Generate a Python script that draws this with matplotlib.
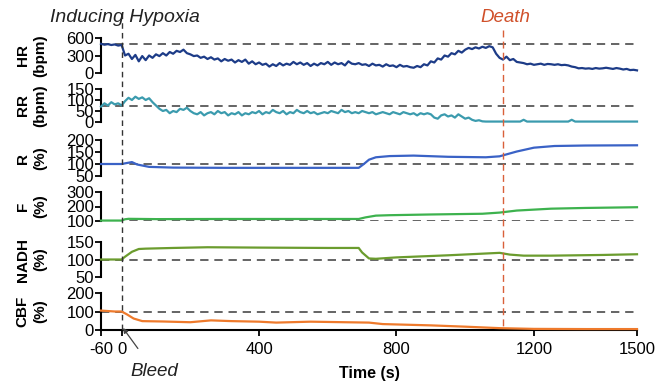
import numpy as np
import matplotlib
matplotlib.use('Agg')
import matplotlib.pyplot as plt

plt.rcParams['font.family'] = ['Liberation Sans', 'DejaVu Sans']
plt.rcParams['axes.unicode_minus'] = False

# heart rate and respiration, sampled every 10 s from -60 s to 1500 s
t_fast = np.arange(-60, 1501, 10)

hr = [500, 485, 495, 480, 490, 470,
      480, 300, 330, 240, 310, 200, 290, 220, 300, 260,
      320, 290, 340, 300, 360, 330, 380, 360, 400, 340,
      320, 290, 300, 260, 280, 240, 270, 230, 250, 200,
      240, 210, 230, 180, 220, 190, 230, 160, 200, 150,
      180, 140, 160, 110, 150, 120, 170, 130, 160, 140,
      190, 150, 180, 140, 170, 120, 160, 130, 170, 150,
      190, 140, 180, 150, 170, 130, 200, 160, 150, 170,
      140, 150, 120, 160, 130, 140, 110, 150, 120, 130,
      100, 140, 110, 120, 100, 90, 120, 100, 150, 130,
      200, 180, 250, 230, 300, 280, 340, 320, 380, 350,
      400, 430, 410, 440, 420, 450, 430, 460, 440, 330,
      260, 230, 280, 220, 240, 190, 180, 170, 150, 160,
      140, 150, 160, 140, 155, 150, 140, 150, 135, 140,
      130, 110, 100, 80, 85, 75, 80, 70, 85, 75,
      80, 90, 80, 70, 85, 75, 60, 70, 50, 55, 45]

rr = [70, 85, 75, 90, 80, 85,
      75, 95, 110, 100, 115, 105, 112, 100, 108, 90,
      75, 60, 50, 55, 40, 50, 45, 60, 55, 65,
      50, 40, 35, 45, 30, 40, 45, 35, 50, 40,
      45, 30, 40, 35, 45, 30, 40, 35, 45, 40,
      50, 35, 45, 40, 55, 45, 40, 50, 35, 45,
      40, 55, 45, 40, 50, 40, 45, 35, 40, 45,
      40, 50, 45, 40, 55, 45, 50, 40, 45, 40,
      50, 45, 40, 45, 35, 40, 45, 40, 35, 45,
      40, 35, 45, 40, 35, 40, 30, 40, 35, 40,
      35, 20, 15, 30, 35, 25, 30, 20, 35, 25,
      15, 20, 10, 5, 8, 3, 2, 2, 2, 2,
      2, 2, 2, 2, 2, 2, 2, 10, 2, 2,
      2, 2, 2, 2, 2, 2, 2, 2, 2, 2,
      2, 10, 2, 2, 2, 2, 2, 2, 2, 2,
      2, 2, 2, 2, 2, 2, 2, 2, 2, 2, 2]

# slower signals, read at breakpoints
t_r = [-60, 0, 15, 30, 45, 80, 150, 300, 500, 690, 705, 720, 740, 780, 850,
       950, 1060, 1100, 1150, 1200, 1260, 1350, 1500]
r_val = [100, 100, 104, 108, 98, 88, 85, 84, 84, 84, 100, 118, 128, 133, 135,
         130, 128, 132, 152, 168, 175, 177, 178]

t_f = [-60, 0, 10, 20, 100, 300, 500, 690, 710, 740, 780, 900, 1050, 1100,
       1150, 1250, 1350, 1500]
f_val = [103, 103, 112, 115, 113, 114, 114, 114, 125, 137, 140, 145, 150, 158,
         172, 185, 190, 195]

t_nadh = [-60, 0, 10, 30, 50, 70, 150, 250, 400, 600, 690, 700, 720, 740, 800,
          950, 1100, 1130, 1170, 1250, 1400, 1500]
nadh = [100, 100, 108, 122, 130, 131, 133, 135, 134, 133, 133, 120, 103, 102, 106,
        112, 119, 114, 111, 111, 113, 115]

t_cbf = [-60, -20, 0, 15, 35, 60, 120, 200, 260, 320, 400, 450, 550, 650, 720,
         760, 800, 900, 1000, 1100, 1200, 1350, 1500]
cbf = [105, 100, 100, 85, 62, 48, 46, 42, 52, 48, 45, 40, 45, 42, 40,
       32, 30, 25, 18, 10, 6, 5, 5]

names = ['HR\n(bpm)', 'RR\n(bpm)', 'R\n(%)', 'F\n(%)', 'NADH\n(%)', 'CBF\n(%)']
baselines = [500, 75, 100, 100, 100, 100]
ylims = [(0, 600), (0, 150), (50, 200), (100, 300), (50, 150), (0, 200)]
yticks = [[0, 300, 600], [0, 50, 100, 150], [50, 100, 150, 200],
          [100, 200, 300], [50, 100, 150], [0, 100, 200]]
colors = ['#1d3c88', '#3b9bae', '#3a62c6', '#3db24e', '#6b9c2e', '#ee7a2c']
series = [(t_fast, hr), (t_fast, rr), (t_r, r_val), (t_f, f_val),
          (t_nadh, nadh), (t_cbf, cbf)]

xticks = [-60, 0, 400, 800, 1200, 1500]
bleed_time, death_time = 0, 1110

# panel extents in pixels from the top (top, bottom)
W, H = 655, 383
rows = [(38, 73), (89, 122), (140, 176), (192, 221), (242, 277), (293, 330)]
x0, x1 = 101, 637

fig = plt.figure(figsize=(W/100, H/100), dpi=100)

axes = []
for i, (top, bot) in enumerate(rows):
    ax = fig.add_axes([x0/W, 1 - bot/H, (x1 - x0)/W, (bot - top)/H])
    t, v = series[i]
    ax.plot(t, v, color=colors[i], lw=1.6, clip_on=False, zorder=3)
    ax.axhline(baselines[i], color='#4a4a4a', lw=1.2, ls=(0, (5, 3.5)), zorder=2)
    ax.set_xlim(-60, 1500)
    ax.set_ylim(*ylims[i])
    ax.set_yticks(yticks[i])
    for s in ['top', 'right']:
        ax.spines[s].set_visible(False)
    ax.spines['left'].set_linewidth(1.5)
    ax.tick_params(axis='y', direction='out', length=4, width=1.3, pad=1,
                   labelsize=12)
    ax.set_ylabel(names[i], fontsize=11, fontweight='bold', va='center',
                  linespacing=1.3)
    ax.yaxis.set_label_coords(-0.13, 0.5)
    if i < len(rows) - 1:
        ax.spines['bottom'].set_visible(False)
        ax.set_xticks([])
    else:
        ax.spines['bottom'].set_linewidth(1.5)
        ax.set_xticks(xticks)
        ax.tick_params(axis='x', direction='out', length=4, width=1.3, pad=5,
                       labelsize=12)
        ax.set_xlabel('Time (s)', fontsize=11.5, fontweight='bold', labelpad=6)
    ax.patch.set_alpha(0)
    axes.append(ax)

# overlay for event markers, y in pixels from the top
ov = fig.add_axes([x0/W, 0, (x1 - x0)/W, 1])
ov.set_xlim(-60, 1500)
ov.set_ylim(H, 0)
ov.axis('off')
ov.vlines(bleed_time, 13, 331, color='#333333', lw=1.0, ls=(0, (4, 3)))
ov.vlines(death_time, 30, 326, color='#d9603a', lw=1.0, ls=(0, (5, 3)))
ov.text(10, 18, 'Inducing Hypoxia', style='italic', fontsize=14,
        ha='center', va='center', color='#222222')
ov.text(1118, 18, 'Death', style='italic', fontsize=13.5, ha='center',
        va='center', color='#d0502a')
ov.annotate('Bleed', xy=(bleed_time + 4, 328), xytext=(95, 371),
            ha='center', va='center', style='italic', fontsize=13.5,
            color='#222222',
            arrowprops=dict(arrowstyle='-|>', color='#444444', lw=0.9,
                            shrinkA=10, shrinkB=0, mutation_scale=7))

fig.savefig('out.png', dpi=100)
